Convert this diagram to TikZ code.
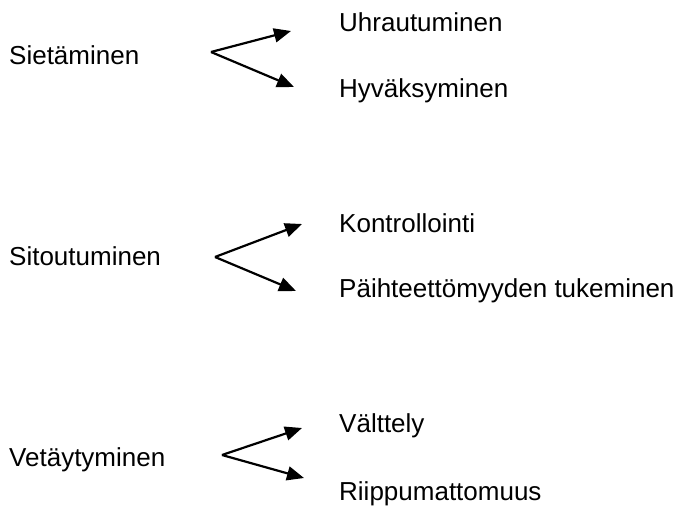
\documentclass[tikz,border=0pt]{standalone}
\usepackage{fontspec}
\setmainfont{Liberation Sans}
\usetikzlibrary{arrows.meta}

\begin{document}
\begin{tikzpicture}[x=1pt,y=-1pt,
    lbl/.style={anchor=base west,inner sep=0pt,font=\fontsize{26}{31}\selectfont},
    arr/.style={line width=2.2pt,-{Triangle[length=17pt,width=14pt]}}]
    \useasboundingbox (0,0) rectangle (683,506);

    % vasen sarake
    \node[lbl] (sie) at (9,64) {Sietäminen};
    \node[lbl] (sit) at (9,265) {Sitoutuminen};
    \node[lbl] (vet) at (9,466) {Vetäytyminen};

    % oikea sarake
    \node[lbl] (uhr) at (339,31) {Uhrautuminen};
    \node[lbl] (hyv) at (339,97) {Hyväksyminen};
    \node[lbl] (kon) at (339,232) {Kontrollointi};
    \node[lbl] (pai) at (339,297) {Päihteettömyyden tukeminen};
    \node[lbl] (val) at (339,432) {Välttely};
    \node[lbl] (rii) at (339,500) {Riippumattomuus};

    % haarat
    \coordinate (f_1) at (211,52);
    \coordinate (f_2) at (215,257);
    \coordinate (f_3) at (222,455);
    \coordinate (uhr_t) at (291,31);
    \coordinate (hyv_t) at (294,87);
    \coordinate (kon_t) at (302,224);
    \coordinate (pai_t) at (296,291);
    \coordinate (val_t) at (302,428);
    \coordinate (rii_t) at (304,478);

    \draw[arr] (f_1) -- (uhr_t);
    \draw[arr] (f_1) -- (hyv_t);
    \draw[arr] (f_2) -- (kon_t);
    \draw[arr] (f_2) -- (pai_t);
    \draw[arr] (f_3) -- (val_t);
    \draw[arr] (f_3) -- (rii_t);
\end{tikzpicture}
\end{document}
